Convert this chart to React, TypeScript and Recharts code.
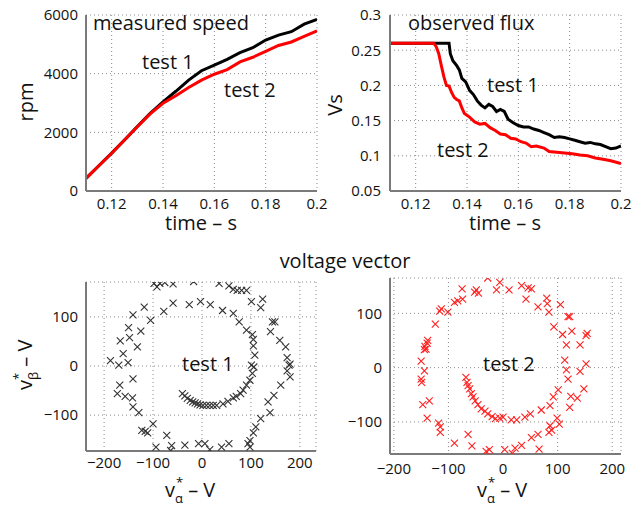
import React from 'react';
import {
  LineChart, Line, ScatterChart, Scatter, XAxis, YAxis, CartesianGrid,
} from 'recharts';

// measured speed (rpm)
const speedTime = [0.11, 0.115, 0.12, 0.125, 0.13, 0.135, 0.14, 0.145, 0.15, 0.155, 0.16, 0.165, 0.17, 0.175, 0.18, 0.185, 0.19, 0.195, 0.2];
const speedTest1 = [430, 860, 1290, 1740, 2200, 2650, 3040, 3400, 3780, 4100, 4295, 4490, 4715, 4885, 5145, 5315, 5430, 5690, 5850];
const speedTest2 = [430, 860, 1285, 1740, 2190, 2630, 2990, 3250, 3530, 3780, 3980, 4140, 4400, 4560, 4760, 4960, 5080, 5270, 5460];

// observed flux (Vs)
const fluxTime1 = [0.11, 0.133, 0.1335, 0.1345, 0.136, 0.137, 0.138, 0.1395, 0.141, 0.1425, 0.144, 0.1455, 0.147, 0.1485, 0.15, 0.1515, 0.153, 0.1545, 0.156, 0.158, 0.16, 0.162, 0.164, 0.166, 0.168, 0.17, 0.172, 0.174, 0.176, 0.178, 0.18, 0.182, 0.184, 0.186, 0.188, 0.19, 0.192, 0.194, 0.196, 0.198, 0.2];
const fluxTest1 = [0.26, 0.26, 0.245, 0.235, 0.228, 0.222, 0.21, 0.205, 0.193, 0.187, 0.178, 0.172, 0.168, 0.173, 0.17, 0.163, 0.166, 0.163, 0.152, 0.147, 0.143, 0.141, 0.141, 0.138, 0.136, 0.133, 0.13, 0.126, 0.127, 0.126, 0.124, 0.122, 0.12, 0.118, 0.119, 0.117, 0.116, 0.113, 0.11, 0.111, 0.114];
const fluxTime2 = [0.11, 0.127, 0.128, 0.129, 0.13, 0.131, 0.132, 0.133, 0.134, 0.135, 0.136, 0.137, 0.138, 0.139, 0.141, 0.143, 0.145, 0.147, 0.149, 0.151, 0.153, 0.155, 0.157, 0.159, 0.161, 0.163, 0.165, 0.167, 0.17, 0.172, 0.175, 0.178, 0.181, 0.184, 0.187, 0.19, 0.193, 0.196, 0.2];
const fluxTest2 = [0.26, 0.26, 0.255, 0.245, 0.228, 0.212, 0.2, 0.199, 0.19, 0.183, 0.18, 0.178, 0.168, 0.16, 0.155, 0.148, 0.145, 0.146, 0.14, 0.136, 0.131, 0.13, 0.125, 0.124, 0.12, 0.118, 0.113, 0.114, 0.111, 0.106, 0.105, 0.104, 0.103, 0.101, 0.1, 0.097, 0.095, 0.093, 0.089];

// voltage vector, test 1
const alpha1 = [-98, -92, -86, -76, -59, -17, -3, -26, -59, -78, -118, -105, -141, -125, -150, -148, -167, -132, -161, -187, -170, -151,
  -141, -168, -173, -157, -142, -141, -129, -100, -123, -116, -111, -94, -72, -62, -64, -35, -7,
  -40, -35, -30, -24, -19, -14, -9, -4, 2, 9, 16, 23, 30, 43, 53, 64, 70, 79, 84, 91, 98, 103, 106,
  178, 174, 180, 161, 147, 135, 139, 120, 110, 105, 98, 94, 98,
  6, 16, 40, 55,
  35, 55, 64, 72, 81, 91,
  17, 42, 64, 76, 91, 103, 105, 105, 108, 101,
  101, 124, 120, 144, 149, 140, 159, 171, 174, 180];
const beta1 = [168, 161, 168, 170, 167, 172, 131, 125, 128, 111, 120, 93, 104, 71, 78, 58, 51, 39, 25, 11, 2, 7,
  -26, -39, -56, -62, -65, -83, -95, -118, -131, -133, -136, -165, -141, -162, -172, -161, -158,
  -56, -61, -66, -70, -73, -75, -77, -79, -80, -80, -80, -80, -80, -77, -72, -65, -62, -56, -49, -39, -29, -15, -2,
  2, -10, -22, -39, -60, -73, -95, -107, -124, -136, -152, -158, -165,
  -158, -170, -165, -158,
  168, 163, 156, 154, 154, 154,
  125, 113, 107, 90, 73, 64, 54, 41, 22, 2,
  131, 136, 119, 90, 90, 70, 52, 39, 17, 4];

// voltage vector, test 2
const alpha2 = [-28, -6, -12, -49, -45, -52, -75, -74, -83, -89, -101, -113, -116, -124, -138, -139, -143, -141, -144, -150,
  -144, -150, -149, -147, -135, -139, -118, -115, -115, -89, -64, -57, -31, -25,
  -68, -66, -64, -61, -58, -55, -51, -46, -40, -33, -28, -20, -14, -6, 0, 15, 25, 40, 50, 70, 86, 92, 101,
  116, 119, 141, 152, 148, 124, 136, 122,
  99, 103, 86, 89, 84, 64, 52, 66, 34, 22, 3, 17,
  11, 34, 46, 52, 42, 80, 81, 64, 84, 105, 119, 122, 93, 109, 126, 116, 154, 152, 141, 113];
const beta2 = [165, 157, 143, 143, 137, 139, 145, 126, 123, 120, 102, 108, 104, 80, 50, 45, 39, 34, 33, 12,
  -6, -21, -27, -68, -61, -93, -102, -109, -119, -139, -123, -144, -154, -151,
  -18, -27, -33, -39, -48, -54, -61, -68, -76, -80, -85, -90, -94, -93, -91, -96, -96, -91, -85, -78, -70, -54, -41,
  -4, -21, -7, 7, -39, -53, -56, -73,
  -93, -104, -107, -115, -119, -123, -129, -150, -143, -148, -151, -158,
  143, 151, 147, 145, 126, 128, 118, 112, 102, 116, 94, 94, 75, 61, 67, 42, 63, 59, 42, 14];

const speedData1 = speedTime.map((t, i) => ({ t, v: speedTest1[i] }));
const speedData2 = speedTime.map((t, i) => ({ t, v: speedTest2[i] }));
const fluxData1 = fluxTime1.map((t, i) => ({ t, v: fluxTest1[i] }));
const fluxData2 = fluxTime2.map((t, i) => ({ t, v: fluxTest2[i] }));
const vecData1 = alpha1.map((a, i) => ({ a, b: beta1[i] }));
const vecData2 = alpha2.map((a, i) => ({ a, b: beta2[i] }));

const FONT = '"Open Sans", sans-serif';
const axisColor = '#7a7a7a';
const gridProps = { stroke: '#8a8a8a', strokeDasharray: '1 3', strokeWidth: 1 };
const tickStyle = { fontSize: 15, fill: '#111', fontFamily: FONT };
const minus = (v: number) => String(v).replace('-', '\u2212');

const XMark = (props: any) => {
  const { cx, cy, color } = props;
  const s = 3.5;
  return (
    <path
      d={`M${cx - s},${cy - s}L${cx + s},${cy + s}M${cx - s},${cy + s}L${cx + s},${cy - s}`}
      stroke={color}
      strokeWidth={1.1}
      fill="none"
    />
  );
};

const pos = (left: number, top: number): React.CSSProperties => ({ position: 'absolute', left, top });

export default function App() {
  return (
    <div style={{ position: 'absolute', left: 0, top: 0, width: 642, height: 509, background: '#fff', fontFamily: FONT }}>
      {/* measured speed */}
      <div style={pos(0, 0)}>
        <LineChart width={330} height={230} margin={{ top: 15, right: 13, left: 26, bottom: 0 }}>
          <CartesianGrid {...gridProps} />
          <XAxis type="number" dataKey="t" domain={[0.11, 0.2]} ticks={[0.12, 0.14, 0.16, 0.18, 0.2]} allowDataOverflow
            height={39} tickLine={false} tickMargin={1} tick={tickStyle} stroke={axisColor} strokeWidth={2} />
          <YAxis type="number" domain={[0, 6000]} ticks={[0, 2000, 4000, 6000]} allowDataOverflow
            width={60} tickLine={false} tickMargin={2} tick={tickStyle} stroke={axisColor} strokeWidth={2} />
          <Line data={speedData1} dataKey="v" stroke="#000" strokeWidth={3} dot={false} isAnimationActive={false} />
          <Line data={speedData2} dataKey="v" stroke="#ff0000" strokeWidth={3} dot={false} isAnimationActive={false} />
        </LineChart>
      </div>

      {/* observed flux */}
      <div style={pos(310, 0)}>
        <LineChart width={332} height={230} margin={{ top: 15, right: 21, left: 30, bottom: 0 }}>
          <CartesianGrid {...gridProps} />
          <XAxis type="number" dataKey="t" domain={[0.11, 0.2]} ticks={[0.12, 0.14, 0.16, 0.18, 0.2]} allowDataOverflow
            height={39} tickLine={false} tickMargin={1} tick={tickStyle} stroke={axisColor} strokeWidth={2} />
          <YAxis type="number" domain={[0.05, 0.3]} ticks={[0.05, 0.1, 0.15, 0.2, 0.25, 0.3]} allowDataOverflow
            width={50} tickLine={false} tickMargin={3} tick={tickStyle} stroke={axisColor} strokeWidth={2} />
          <Line data={fluxData1} dataKey="v" stroke="#000" strokeWidth={3} dot={false} isAnimationActive={false} />
          <Line data={fluxData2} dataKey="v" stroke="#ff0000" strokeWidth={3} dot={false} isAnimationActive={false} />
        </LineChart>
      </div>

      {/* voltage vector test 1 */}
      <div style={pos(0, 262)}>
        <ScatterChart width={330} height={240} margin={{ top: 20, right: 14, left: 26, bottom: 0 }}>
          <CartesianGrid {...gridProps} />
          <XAxis type="number" dataKey="a" domain={[-237, 233]} ticks={[-200, -100, 0, 100, 200]} allowDataOverflow
            height={51} tickLine={false} tickMargin={0} tick={tickStyle} stroke={axisColor} strokeWidth={2}
            tickFormatter={minus} />
          <YAxis type="number" dataKey="b" domain={[-173, 171]} ticks={[-100, 0, 100]} allowDataOverflow
            width={60} tickLine={false} tickMargin={2} tick={tickStyle} stroke={axisColor} strokeWidth={2}
            tickFormatter={minus} />
          <Scatter data={vecData1} isAnimationActive={false} shape={(p: any) => <XMark {...p} color="#333" />} />
        </ScatterChart>
      </div>

      {/* voltage vector test 2 */}
      <div style={pos(310, 262)}>
        <ScatterChart width={332} height={240} margin={{ top: 16, right: 21, left: 30, bottom: 0 }}>
          <CartesianGrid {...gridProps} />
          <XAxis type="number" dataKey="a" domain={[-207, 216]} ticks={[-200, -100, 0, 100, 200]} allowDataOverflow
            height={48} tickLine={false} tickMargin={3} tick={tickStyle} stroke={axisColor} strokeWidth={2}
            tickFormatter={minus} />
          <YAxis type="number" dataKey="b" domain={[-159, 165]} ticks={[-100, 0, 100]} allowDataOverflow
            width={50} tickLine={false} tickMargin={2} tick={tickStyle} stroke={axisColor} strokeWidth={2}
            tickFormatter={minus} />
          <Scatter data={vecData2} isAnimationActive={false} shape={(p: any) => <XMark {...p} color="#ff2020" />} />
        </ScatterChart>
      </div>

      {/* text overlay */}
      <svg width={642} height={509} style={{ position: 'absolute', left: 0, top: 0, pointerEvents: 'none' }}
        fontFamily={FONT} fill="#111">
        <text x={93} y={30} fontSize={20}>measured speed</text>
        <text x={142} y={69} fontSize={20}>test 1</text>
        <text x={224} y={97} fontSize={20}>test 2</text>
        <text transform="translate(33,102) rotate(-90)" textAnchor="middle" fontSize={20}>rpm</text>
        <text x={201} y={230} textAnchor="middle" fontSize={20}>time – s</text>

        <text x={408} y={30} fontSize={20}>observed flux</text>
        <text x={487} y={92} fontSize={20}>test 1</text>
        <text x={437} y={157} fontSize={20}>test 2</text>
        <text transform="translate(342,105) rotate(-90)" textAnchor="middle" fontSize={20}>Vs</text>
        <text x={505} y={230} textAnchor="middle" fontSize={20}>time – s</text>

        <text x={345} y={268} textAnchor="middle" fontSize={20}>voltage vector</text>

        <text x={182} y={371} fontSize={20}>test 1</text>
        <text x={483} y={371} fontSize={20}>test 2</text>

        <g transform="translate(32,390) rotate(-90)">
          <text x={0} y={0} fontSize={20}>v<tspan dy={6} fontSize={13}>β</tspan><tspan dy={-6}> – V</tspan></text>
          <text x={10} y={-9} fontSize={13}>*</text>
        </g>
        <g transform="translate(165,497)">
          <text x={0} y={0} fontSize={20}>v<tspan dy={6} fontSize={13}>α</tspan><tspan dy={-6}> – V</tspan></text>
          <text x={11} y={-10} fontSize={13}>*</text>
        </g>
        <g transform="translate(477,497)">
          <text x={0} y={0} fontSize={20}>v<tspan dy={6} fontSize={13}>α</tspan><tspan dy={-6}> – V</tspan></text>
          <text x={11} y={-10} fontSize={13}>*</text>
        </g>
      </svg>
    </div>
  );
}
